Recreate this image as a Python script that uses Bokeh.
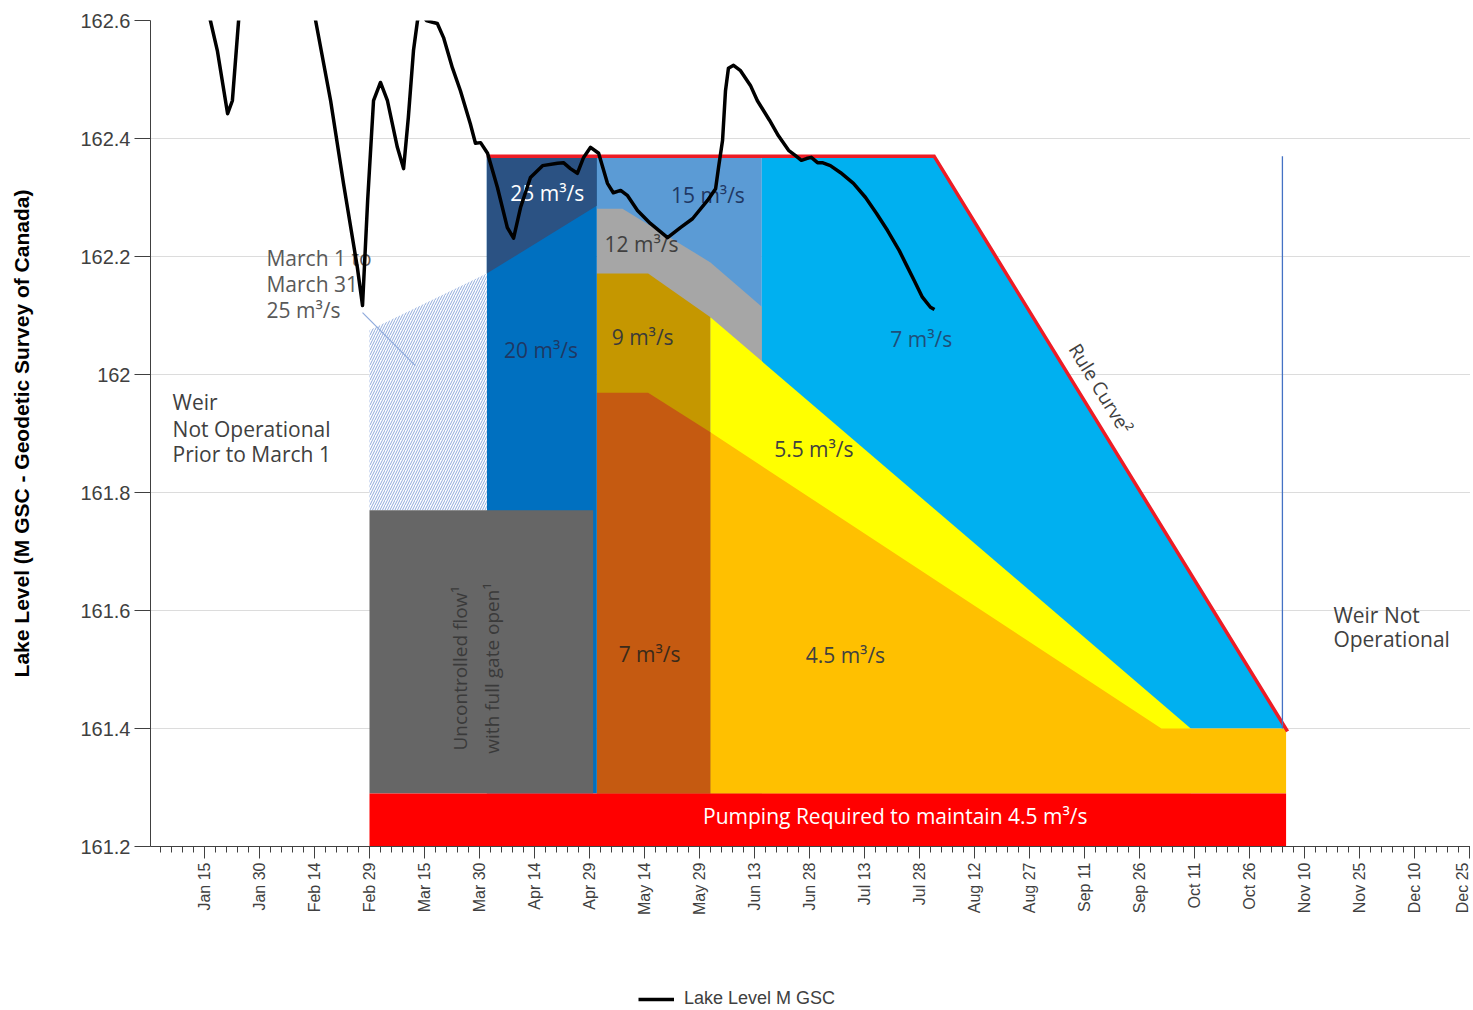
import numpy as np
from math import pi, atan2
from bokeh.plotting import figure
from bokeh.layouts import column
from bokeh.models import (FixedTicker, NumeralTickFormatter, Legend, LegendItem,
                          ColumnDataSource)
from bokeh.core.properties import value
from bokeh.embed import file_html
from bokeh.resources import INLINE

NaN = float("nan")

# ---- axis ticks (day of year, leap year: Jan 1 = 1) ----
tick_days = [15, 30, 45, 60, 75, 90, 105, 120, 135, 150, 165, 180,
             195, 210, 225, 240, 255, 270, 285, 300, 315, 330, 345, 360]
tick_labels = ["Jan 15", "Jan 30", "Feb 14", "Feb 29", "Mar 15", "Mar 30",
               "Apr 14", "Apr 29", "May 14", "May 29", "Jun 13", "Jun 28",
               "Jul 13", "Jul 28", "Aug 12", "Aug 27", "Sep 11", "Sep 26",
               "Oct 11", "Oct 26", "Nov 10", "Nov 25", "Dec 10", "Dec 25"]
minor_days = list(range(0, 361, 3))
level_ticks = [161.2, 161.4, 161.6, 161.8, 162.0, 162.2, 162.4, 162.6]

# ---- observed lake level (M GSC) ----
lake_day = [
    15.5, 16.6, 18.5, 21.3, 22.6, 24.3, 24.8, NaN,
    44.5, 45.3, 49.4, 52.9, 56.7, 58.1, 59.5, 61.1, 63.0, 64.9, 67.6, 69.3,
    70.6, 72.0, 73.1, 74.2, 75.5, 77.2, 78.5, 80.2, 82.6, 84.8, 87.5, 88.9,
    90.3, 92.2, 94.9, 97.6, 99.3, 101.2, 103.9, 107.2, 111.3, 112.9, 114.8,
    116.7, 118.4, 120.3, 122.5, 124.9, 126.5, 128.5, 130.4, 133.1, 136.6,
    141.3, 144.8, 148.1, 152.2, 154.4, 155.2, 156.3, 157.1, 157.9, 159.3,
    161.2, 163.9, 165.8, 169.1, 171.5, 174.3, 176.2, 177.8, 179.2, 180.5,
    182.2, 183.5, 185.7, 188.5, 192.0, 195.3, 198.3, 201.3, 204.5, 206.5,
    208.6, 210.8, 213.0, 214.1]
lake_level = [
    162.625, 162.600, 162.549, 162.442, 162.464, 162.600, 162.625, NaN,
    162.625, 162.600, 162.464, 162.324, 162.181, 162.117, 162.295, 162.464,
    162.495, 162.464, 162.385, 162.349, 162.436, 162.549, 162.600, 162.614,
    162.600, 162.597, 162.595, 162.571, 162.520, 162.481, 162.425, 162.392,
    162.393, 162.375, 162.317, 162.249, 162.231, 162.283, 162.334, 162.354,
    162.358, 162.359, 162.349, 162.341, 162.368, 162.385, 162.375, 162.324,
    162.308, 162.312, 162.303, 162.278, 162.256, 162.232, 162.249, 162.264,
    162.295, 162.315, 162.351, 162.397, 162.481, 162.519, 162.524, 162.515,
    162.490, 162.464, 162.431, 162.405, 162.380, 162.371, 162.363, 162.366,
    162.368, 162.359, 162.359, 162.354, 162.342, 162.324, 162.300, 162.273,
    162.244, 162.210, 162.185, 162.159, 162.131, 162.114, 162.110]

# ---- operating zones (day, level) ----
rule_day = [92, 214, 310.4]
rule_level = [162.37, 162.37, 161.395]

z15_day = [122, 167]          # rectangle left/right
z15_level = [161.29, 162.37]  # bottom/top
z20_day = [92, 122]
z20_level = [161.29, 162.37]

cyan7_day = [167, 214, 310, 167]
cyan7_level = [162.37, 162.37, 161.4, 161.4]
gray12_day = [122, 129, 153, 167, 167, 122]
gray12_level = [162.281, 162.281, 162.19, 162.115, 161.29, 161.29]
gold9_day = [122, 136, 153, 153, 122]
gold9_level = [162.171, 162.171, 162.097, 161.29, 161.29]
yellow55_day = [153, 284, 284, 153]
yellow55_level = [162.097, 161.4, 161.29, 161.29]
amber45_day = [153, 276, 310, 310, 153]
amber45_level = [161.902, 161.4, 161.4, 161.29, 161.29]
orange7_day = [122, 136, 153, 153, 122]
orange7_level = [161.969, 161.969, 161.902, 161.29, 161.29]
navy25_day = [92, 122, 122, 92]
navy25_level = [162.37, 162.37, 162.286, 162.171]
march_day = [60, 92, 92, 60]
march_level = [162.075, 162.171, 161.77, 161.77]

uncontrolled_day = [60, 121]
uncontrolled_level = [161.29, 161.77]
pumping_day = [60, 310]
pumping_level = [161.2, 161.29]

weir_day = [309, 309]
weir_level = [161.4, 162.37]
pointer_day = [58.1, 72.5]
pointer_level = [162.105, 162.015]

# ---- labels ----
flow_text = ["25 m³/s", "15 m³/s", "12 m³/s", "20 m³/s", "9 m³/s", "7 m³/s",
             "5.5 m³/s", "7 m³/s", "4.5 m³/s",
             "Pumping Required to maintain 4.5 m³/s"]
flow_day = [108.5, 152.3, 134.2, 106.8, 134.5, 210.5, 181.2, 136.4, 189.8, 203.4]
flow_level = [162.307, 162.305, 162.222, 162.042, 162.064, 162.061, 161.873,
              161.527, 161.524, 161.251]
flow_color = ["white", "#1f3864", "#404040", "#1f3864", "#3a3a3a", "#1f4e79",
              "#404040", "#3a2a1a", "#404040", "white"]

note_text = ["Weir", "Not Operational", "Prior to March 1",
             "March 1 to", "March 31", "25 m³/s",
             "Weir Not", "Operational"]
note_day = [6.3, 6.3, 6.3, 31.9, 31.9, 31.9, 322.9, 322.9]
note_level = [161.953, 161.908, 161.866, 162.197, 162.153, 162.110, 161.593, 161.551]
note_color = ["#404040", "#404040", "#404040", "#595959", "#595959", "#595959",
              "#404040", "#404040"]

gate_text = ["Uncontrolled flow¹", "with full gate open¹"]
gate_day = [84.8, 93.3]
gate_level = [161.502, 161.502]

X0, X1 = 0.27, 360.3
Y0, Y1 = 161.2, 162.6
W, H = 1470, 920
BL, BT, BB = 150, 20, 74
LEG_H = 89

p = figure(width=W, height=H, x_range=(X0, X1), y_range=(Y0, Y1),
           output_backend="svg", toolbar_location=None,
           min_border_left=BL, min_border_right=0, min_border_top=BT,
           min_border_bottom=BB)
p.outline_line_color = None
p.background_fill_color = "white"
p.xgrid.visible = False
p.ygrid.ticker = FixedTicker(ticks=level_ticks)
p.ygrid.grid_line_color = "#dcdcdc"
p.ygrid.grid_line_width = 1

xa = p.xaxis[0]
xa.ticker = FixedTicker(ticks=tick_days, minor_ticks=minor_days)
xa.major_label_overrides = dict(zip(tick_days, tick_labels))
xa.major_label_orientation = pi / 2
xa.major_tick_out = 12
xa.major_tick_in = 0
xa.minor_tick_out = 6
xa.minor_tick_in = 0
xa.major_label_standoff = 4
xa.major_label_text_font = "Liberation Sans"
xa.major_label_text_font_size = "16px"
xa.major_label_text_color = "#404040"
xa.axis_line_color = "#404040"
xa.major_tick_line_color = "#404040"
xa.minor_tick_line_color = "#404040"

ya = p.yaxis[0]
ya.ticker = FixedTicker(ticks=level_ticks)
ya.formatter = NumeralTickFormatter(format="0.[0]")
ya.major_tick_out = 16
ya.major_tick_in = 0
ya.minor_tick_out = 0
ya.minor_tick_in = 0
ya.major_label_standoff = 4
ya.major_label_text_font = "Liberation Sans"
ya.major_label_text_font_size = "20px"
ya.major_label_text_color = "#404040"
ya.axis_line_color = "#404040"
ya.major_tick_line_color = "#404040"
ya.axis_label = "Lake Level (M GSC - Geodetic Survey of Canada)"
ya.axis_label_text_font = "Liberation Sans"
ya.axis_label_text_font_style = "bold"
ya.axis_label_text_font_size = "21px"
ya.axis_label_text_color = "black"
ya.axis_label_standoff = 44

# zones, back to front
p.quad(left=[z15_day[0]], right=[z15_day[1]], bottom=[z15_level[0]], top=[z15_level[1]],
       fill_color="#5b9bd5", line_color=None)
zones = [(cyan7_day, cyan7_level, "#00b0f0"),
         (gray12_day, gray12_level, "#a6a6a6"),
         (gold9_day, gold9_level, "#c59700"),
         (yellow55_day, yellow55_level, "#ffff00"),
         (amber45_day, amber45_level, "#ffc000"),
         (orange7_day, orange7_level, "#c55a11")]
for zd, zl, col in zones:
    p.patch(zd, zl, fill_color=col, line_color=None)
p.quad(left=[z20_day[0]], right=[z20_day[1]], bottom=[z20_level[0]], top=[z20_level[1]],
       fill_color="#0070c0", line_color=None)
p.patch(navy25_day, navy25_level, fill_color="#2b5283", line_color=None)
p.patch(march_day, march_level, fill_color="white", line_color=None,
        hatch_pattern="/", hatch_color="#8ea9db", hatch_scale=5, hatch_weight=1.0)
p.quad(left=[uncontrolled_day[0]], right=[uncontrolled_day[1]],
       bottom=[uncontrolled_level[0]], top=[uncontrolled_level[1]],
       fill_color="#666666", line_color=None)
p.quad(left=[pumping_day[0]], right=[pumping_day[1]],
       bottom=[pumping_level[0]], top=[pumping_level[1]],
       fill_color="#ff0000", line_color=None)
p.line(rule_day, rule_level, line_color="#ee1c25", line_width=3.5, line_join="miter")
p.line(weir_day, weir_level, line_color="#4472c4", line_width=1.3)
p.line(pointer_day, pointer_level, line_color="#8faadc", line_width=1.2)

# labels
p.text(x="x", y="y", text="t", text_color="c",
       source=ColumnDataSource(dict(x=flow_day, y=flow_level, t=flow_text, c=flow_color)),
       text_font=value("Open Sans"), text_font_size="21px",
       text_align="center", text_baseline="middle")
p.text(x="x", y="y", text="t", text_color="c",
       source=ColumnDataSource(dict(x=note_day, y=note_level, t=note_text, c=note_color)),
       text_font=value("Open Sans"), text_font_size="21px",
       text_align="left", text_baseline="middle")
p.text(x=gate_day, y=gate_level, text=gate_text, angle=pi / 2,
       text_color="#3a3a3a", text_font=value("Open Sans"), text_font_size="19px",
       text_align="center", text_baseline="middle")

px_per_day = (W - BL) / (X1 - X0)
px_per_m = (H - BT - BB) / (Y1 - Y0)
rule_angle = atan2((rule_level[2] - rule_level[1]) * px_per_m,
                   (rule_day[2] - rule_day[1]) * px_per_day)
p.text(x=[259.4], y=[161.976], text=["Rule Curve²"], angle=rule_angle,
       text_color="#404040", text_font=value("Open Sans"), text_font_size="19px",
       text_align="center", text_baseline="middle")

lake_src = ColumnDataSource(dict(day=np.array(lake_day, dtype=float),
                                 level=np.array(lake_level, dtype=float)))
lake_style = dict(line_color="black", line_width=3.5, line_join="round")
p.line("day", "level", source=lake_src, **lake_style)

# ---- legend row under the chart ----
leg = figure(width=W, height=LEG_H, x_range=(X0, X1), y_range=(Y0, Y1),
             output_backend="svg", toolbar_location=None,
             x_axis_location=None, y_axis_location=None,
             min_border_left=0, min_border_right=0, min_border_top=0,
             min_border_bottom=0)
leg.outline_line_color = None
leg.grid.visible = False
leg_line = leg.line("day", "level", source=lake_src, visible=False, **lake_style)

legend = Legend(items=[LegendItem(label="Lake Level M GSC", renderers=[leg_line])],
                location=(488, 0), orientation="horizontal",
                padding=0, margin=0, spacing=0, glyph_width=36, glyph_height=14,
                label_height=14, label_standoff=10, border_line_color=None,
                background_fill_color=None, label_text_font="Liberation Sans",
                label_text_font_size="18px", label_text_color="#404040")
leg.add_layout(legend)

open("out.html", "w").write(file_html(column(p, leg, spacing=0), INLINE))
